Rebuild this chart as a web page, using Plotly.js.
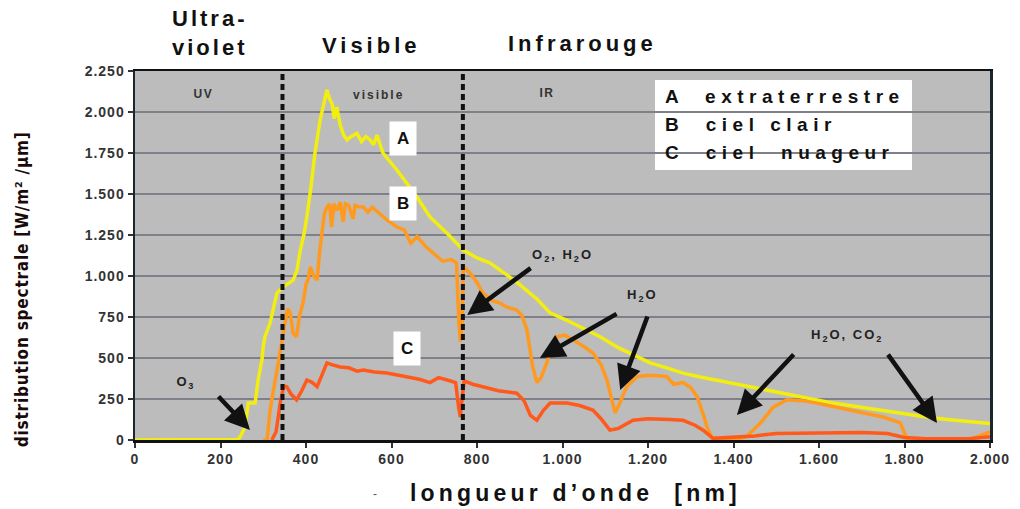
<!DOCTYPE html>
<html><head><meta charset="utf-8">
<script src="https://cdn.plot.ly/plotly-3.0.1.min.js"></script>
<style>html,body{margin:0;padding:0;background:#fff}#chart{width:1020px;height:509px}
.xtick text,.ytick text{letter-spacing:1px}</style>
</head><body><div id="chart"></div>
<script>
// Courbe A : extraterrestre
const aX = [0,200,240,246,257,265,281,288,297,300,304,316,323,332,346,370,379,386,395,402,412,421,433,442,449,455,461,466,472,480,488,496,505,519,530,540,550,558,566,580,613,660,690,730,767,800,830,854,893,940,971,1010,1050,1088,1127,1165,1205,1244,1282,1322,1400,1478,1555,1633,1710,1790,1867,1930,2000];
const aY = [0,0,3,18,80,225,225,366,490,570,630,713,790,896,933,975,1036,1150,1250,1360,1550,1750,1950,2050,2135,2080,2050,1960,2030,1920,1860,1830,1850,1870,1820,1850,1830,1800,1860,1750,1645,1480,1360,1260,1160,1110,1080,1036,963,860,775,730,680,630,568,520,470,440,408,384,345,305,265,225,195,165,134,118,100];
// Courbe B : ciel clair
const bX = [300,309,316,325,332,339,350,357,363,370,378,385,393,400,405,410,418,426,432,438,443,449,455,460,465,472,480,487,492,500,510,515,525,534,545,555,573,590,612,630,645,660,680,706,720,740,752,758,761,765,768,784,800,814,835,854,870,893,905,917,930,940,950,963,975,987,1005,1025,1050,1071,1090,1104,1115,1123,1135,1150,1174,1200,1230,1244,1260,1282,1300,1315,1330,1338,1352,1400,1430,1462,1493,1525,1560,1595,1672,1750,1790,1800,1810,1950,1980,2000];
const bY = [0,0,183,330,420,530,700,800,775,650,630,760,835,950,980,1055,1000,975,1150,1300,1380,1420,1440,1300,1440,1400,1450,1330,1440,1430,1350,1430,1420,1420,1390,1420,1380,1340,1300,1280,1200,1240,1180,1120,1090,1100,1080,700,600,700,1060,1017,960,896,850,835,810,793,760,670,450,350,380,470,560,630,640,610,570,530,460,366,250,165,230,325,386,395,390,386,340,350,320,264,150,80,0,0,20,100,200,245,240,225,183,140,104,40,0,0,30,50];
// Courbe C : ciel nuageux
const cX = [320,330,340,348,355,365,378,390,402,415,426,437,449,460,480,500,520,534,560,589,615,643,665,690,710,730,750,757,761,765,770,790,814,850,893,910,925,940,955,971,1010,1040,1071,1090,1111,1130,1165,1200,1250,1282,1310,1329,1352,1400,1450,1500,1600,1700,1760,1800,1850,1950,2000];
const cY = [0,50,230,330,325,280,245,300,366,350,325,400,470,460,445,440,420,427,415,408,395,386,370,350,380,366,350,200,140,250,360,340,325,300,285,240,150,120,180,225,225,210,183,130,60,70,120,130,125,120,90,60,10,15,25,40,45,45,40,15,8,8,20];
const yTicks = [0,250,500,750,1000,1250,1500,1750,2000,2250];
const xTicks = [0,200,400,600,800,1000,1200,1400,1600,1800,2000];
const bounds = [345,767];

const traces = [
  {x:aX,y:aY,mode:'lines',line:{color:'#f2ef10',width:3.5},hoverinfo:'skip'},
  {x:bX,y:bY,mode:'lines',line:{color:'#ff9a1e',width:3.5},hoverinfo:'skip'},
  {x:cX,y:cY,mode:'lines',line:{color:'#ff5a1c',width:3.5},hoverinfo:'skip'}
];

const FAM = 'Liberation Sans, Arial, sans-serif';
const gasFont = {family:FAM,size:13,color:'#222',weight:'bold'};
const ann = [];
const spacing = [];
const leftPx = [];
function arrow(tx,ty,hx,hy){
  ann.push({x:hx,y:hy,ax:tx,ay:ty,xref:'x',yref:'y',axref:'x',ayref:'y',text:'',showarrow:true,
    arrowhead:2,arrowsize:1.1,arrowwidth:4.5,arrowcolor:'#111'});
  spacing.push(0); leftPx.push(null);
}
arrow(192,274,269,61);
arrow(929,1055,777,762);
arrow(1130,774,947,500);
arrow(1200,762,1135,305);
arrow(1544,530,1408,152);
arrow(1759,530,1876,104);
function lab(x,y,t,extra,sp){
  ann.push(Object.assign({x:x,y:y,xref:'x',yref:'y',text:t,showarrow:false,font:gasFont,yanchor:'middle'},extra||{}));
  spacing.push(sp||0); leftPx.push(null);
}
lab(117,348,'O<sub>3</sub>',null,1.5);
lab(999,1128,'O<sub>2</sub>, H<sub>2</sub>O',null,2);
lab(1186,884,'H<sub>2</sub>O',null,2);
lab(1665,640,'H<sub>2</sub>O, CO<sub>2</sub>',null,2);
const boxFont = {family:FAM,size:17,color:'#111',weight:'bold'};
lab(627,1841,'A',{font:boxFont,bgcolor:'#fff',borderpad:7});
lab(627,1445,'B',{font:boxFont,bgcolor:'#fff',borderpad:7});
lab(636,561,'C',{font:boxFont,bgcolor:'#fff',borderpad:7});

function paperTxt(px,py,t,font,extra,sp){
  const e = extra||{};
  ann.push(Object.assign({x:(px-135)/855,y:(440-py)/369,xref:'paper',yref:'paper',text:t,showarrow:false,
    font:font,xanchor:'center',yanchor:'middle'},e));
  spacing.push(sp||0);
  leftPx.push(e.xanchor==='left'?px:null);
}
const headFont = {family:FAM,size:22,color:'#111',weight:'bold'};
paperTxt(172,33,'Ultra-<br>violet',headFont,{xanchor:'left',align:'center'},3);
paperTxt(322,46,'Visible',headFont,{xanchor:'left'},4);
paperTxt(508,43,'Infrarouge',headFont,{xanchor:'left'},4);
const smallFont = {family:FAM,size:12,color:'#333',weight:'bold'};
paperTxt(203,94,'UV',smallFont,null,1.5);
paperTxt(379,95,'visible',smallFont,null,2);
paperTxt(547,93,'IR',smallFont,null,1.5);
const legFont = {family:FAM,size:19,color:'#111',weight:'bold'};
paperTxt(665,96,'A  extraterrestre',legFont,{xanchor:'left'},5.5);
paperTxt(665,124,'B  ciel clair',legFont,{xanchor:'left'},5.5);
paperTxt(665,152,'C  ciel  nuageur',legFont,{xanchor:'left'},5.5);
paperTxt(375,494,'-',{family:FAM,size:12,color:'#555'});
paperTxt(410,493,'longueur d\u2019onde  [nm]',{family:FAM,size:23,color:'#111',weight:'bold'},{xanchor:'left'},4.2);
paperTxt(22,290,'distribution spectrale [W/m\u00b2 /\u00b5m]',{family:'DejaVu Sans Condensed, Liberation Sans Narrow, sans-serif',size:17,color:'#1a0a0a',weight:'bold'},{textangle:-90},0.8);

const shapes = bounds.map(b=>({type:'line',x0:b,x1:b,xref:'x',y0:0,y1:1,yref:'paper',
  line:{color:'#111',width:4,dash:'6px,4px'}}));
shapes.push({type:'rect',xref:'paper',yref:'paper',x0:(655-135)/855,x1:(912-135)/855,y0:(440-170)/369,y1:(440-80)/369,
  fillcolor:'#fff',line:{width:0},layer:'below'});

const tickF = {family:FAM,size:14,color:'#333',weight:'bold'};
const layout = {
  width:1020,height:509,
  margin:{l:135,r:30,t:71,b:69},
  paper_bgcolor:'#fff',plot_bgcolor:'#bcbcbc',
  separators:',.',
  showlegend:false,
  xaxis:{range:[0,2000],tickvals:xTicks,tickformat:',d',showgrid:false,zeroline:false,
    showline:true,linecolor:'#111',linewidth:2.5,mirror:true,ticks:'outside',ticklen:5,tickwidth:2,tickcolor:'#333',
    tickfont:tickF},
  yaxis:{range:[0,2250],tickvals:yTicks,tickformat:',d',showgrid:true,gridcolor:'#80808a',gridwidth:1.5,zeroline:false,
    showline:true,linecolor:'#1a2630',linewidth:2.5,mirror:true,ticks:'outside',ticklen:5,tickwidth:2,tickcolor:'#333',
    tickfont:tickF},
  annotations:ann,shapes:shapes
};
Plotly.newPlot('chart',traces,layout,{staticPlot:true,displayModeBar:false}).then(function(){
  var host = document.getElementById('chart').getBoundingClientRect();
  spacing.forEach(function(sp,i){
    if(!sp) return;
    var g = document.querySelector('.annotation[data-index="'+i+'"]');
    if(!g) return;
    var t = g.querySelector('text');
    if(!t) return;
    t.style.letterSpacing = sp+'px';
    if(leftPx[i]!==null){
      var r = t.getBoundingClientRect();
      var dx = leftPx[i] - (r.left - host.left);
      var prev = t.getAttribute('transform')||'';
      t.setAttribute('transform','translate('+dx+',0) '+prev);
    }
  });
});
</script></body></html>
